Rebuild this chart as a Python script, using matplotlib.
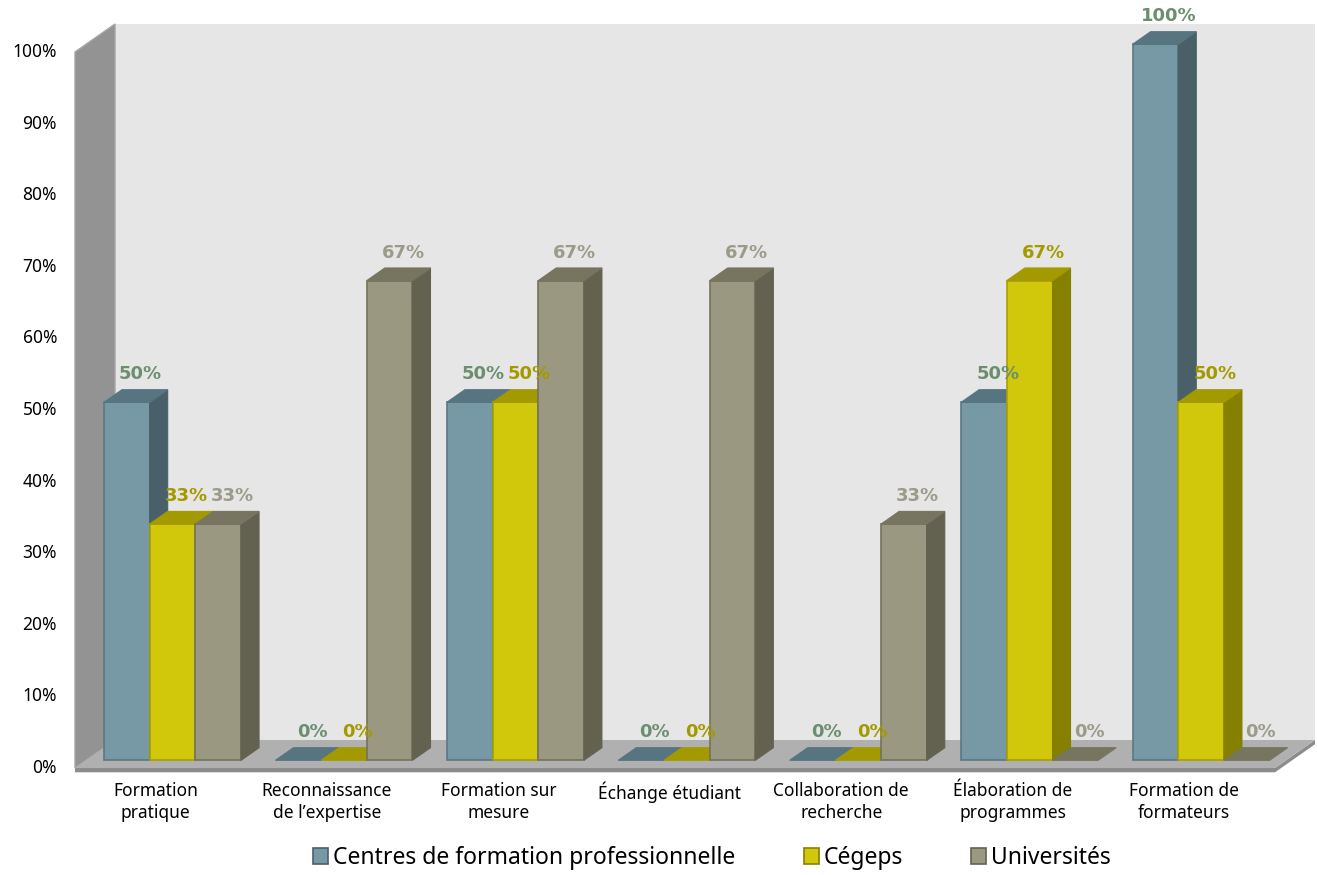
import matplotlib.pyplot as plt
import matplotlib.patches as mpatches
from matplotlib.patches import Polygon, Rectangle

plt.rcParams['font.family'] = ['Noto Sans', 'DejaVu Sans']

categories = ["Formation\npratique", "Reconnaissance\nde l\u2019expertise", "Formation sur\nmesure",
              "\u00c9change \u00e9tudiant", "Collaboration de\nrecherche", "\u00c9laboration de\nprogrammes",
              "Formation de\nformateurs"]
series = ["Centres de formation professionnelle", "C\u00e9geps", "Universit\u00e9s"]
centres = [50, 0, 50, 0, 0, 50, 100]
cegeps = [33, 0, 50, 0, 0, 67, 50]
universites = [33, 67, 67, 67, 33, 0, 0]
values = [centres, cegeps, universites]
yticks = [0, 10, 20, 30, 40, 50, 60, 70, 80, 90, 100]

# front, top, side, label colour per series
front = ['#7799A5', '#D1C80C', '#9A9880']
top = ['#577580', '#A39A00', '#77755F']
side = ['#4A6068', '#858000', '#636250']
edge = ['#5A7883', '#A8A000', '#74725E']
lab_col = ['#6B8E70', '#A39A00', '#9C9B88']

W, H = 1317, 875
fig = plt.figure(figsize=(W / 100, H / 100), dpi=100)
ax = fig.add_axes([0, 0, 1, 1])
ax.axis('off')

# pixel mapping: x=0 at px 75, x=7 at px 1275 ; y=0 at px 768, y=100 at px 52
pxx = 1200 / 7
pxy = 716 / 100
ax.set_xlim(-75 / pxx, (W - 75) / pxx)
ax.set_ylim(-(H - 768) / pxy, 768 / pxy)

DX = 40 / pxx   # full depth offset
DY = 28 / pxy
n = len(categories)

# walls and floor
ax.add_patch(Polygon([(DX, DY), (n + DX, DY), (n + DX, 100 + DY), (DX, 100 + DY)],
                     closed=True, fc='#E6E6E6', ec='none', zorder=0))
ax.add_patch(Polygon([(0, 0), (DX, DY), (DX, 100 + DY), (0, 100)],
                     closed=True, fc='#939393', ec='#A5A5A5', lw=1, zorder=1))
ax.add_patch(Polygon([(0, 0), (n, 0), (n + DX, DY), (DX, DY)],
                     closed=True, fc='#B0B0B0', ec='none', zorder=1))
ax.add_patch(Polygon([(0, 0), (n, 0), (n + DX, DY), (n + DX, DY - 0.6), (n, -0.6), (0, -0.6)],
                     closed=True, fc='#8C8C8C', ec='none', zorder=0.9))

# bars
bw = 0.2665
start = 0.105
d0 = 0.275
bd = 0.45
bdx, bdy = bd * DX, bd * DY
z = 2
for i in range(n):
    for j in range(len(series)):
        v = values[j][i]
        x0 = i + start + j * bw + d0 * DX
        y0 = d0 * DY
        if v > 0:
            ax.add_patch(Rectangle((x0, y0), bw, v, fc=front[j], ec=edge[j], lw=1.2, zorder=z))
            ax.add_patch(Polygon([(x0 + bw, y0), (x0 + bw + bdx, y0 + bdy),
                                  (x0 + bw + bdx, y0 + v + bdy), (x0 + bw, y0 + v)],
                                 closed=True, fc=side[j], ec=side[j], lw=0.8, zorder=z))
        ax.add_patch(Polygon([(x0, y0 + v), (x0 + bw, y0 + v), (x0 + bw + bdx, y0 + v + bdy),
                              (x0 + bdx, y0 + v + bdy)],
                             closed=True, fc=top[j], ec=top[j], lw=0.8, zorder=z))
        z += 0.01
        ax.text(x0 + bw / 2 + 0.08, y0 + v + 3.9, f"{v}%", ha='center', va='center',
                fontsize=13, fontweight='bold', family=['DejaVu Sans'], color=lab_col[j], zorder=5)

# y tick labels
for t in yticks:
    ax.text(-0.105, t, f"{t}%", ha='right', va='center', fontsize=12.5, color='black')

# category labels
for i, c in enumerate(categories):
    ax.text(i + 0.47, -1.9, c, ha='center', va='top', fontsize=12.5, linespacing=1.3, color='black')

handles = [mpatches.Patch(fc=front[k], ec=side[k], lw=1.2, label=series[k]) for k in range(3)]
fig.legend(handles=handles, loc='center', bbox_to_anchor=(712 / W, 1 - 858 / H), ncol=3,
           frameon=False, fontsize=16.5, handlelength=0.65, handleheight=0.65,
           handletextpad=0.2, columnspacing=3.0)

fig.savefig('out.png', dpi=100)
